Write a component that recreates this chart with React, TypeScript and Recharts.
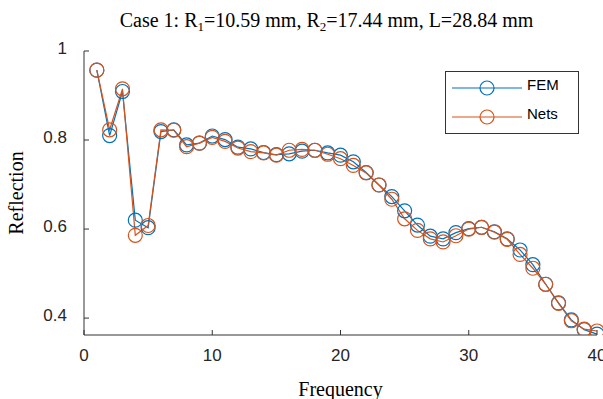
import React from 'react';
import { LineChart, Line, XAxis, YAxis, Legend, Label } from 'recharts';

const frequency = [1, 2, 3, 4, 5, 6, 7, 8, 9, 10, 11, 12, 13, 14, 15, 16, 17, 18, 19, 20, 21, 22, 23, 24, 25, 26, 27, 28, 29, 30, 31, 32, 33, 34, 35, 36, 37, 38, 39, 40];
const femValues = [0.957, 0.810, 0.909, 0.620, 0.603, 0.819, 0.823, 0.789, 0.793, 0.809, 0.801, 0.784, 0.780, 0.772, 0.767, 0.769, 0.775, 0.777, 0.771, 0.766, 0.751, 0.727, 0.699, 0.673, 0.641, 0.609, 0.584, 0.578, 0.592, 0.601, 0.604, 0.594, 0.578, 0.553, 0.520, 0.476, 0.434, 0.396, 0.374, 0.364];
const netsValues = [0.957, 0.823, 0.915, 0.586, 0.608, 0.823, 0.822, 0.785, 0.793, 0.806, 0.797, 0.782, 0.774, 0.771, 0.766, 0.777, 0.779, 0.777, 0.768, 0.758, 0.743, 0.726, 0.699, 0.667, 0.623, 0.597, 0.578, 0.571, 0.585, 0.600, 0.604, 0.593, 0.577, 0.543, 0.512, 0.476, 0.433, 0.394, 0.375, 0.371];
const xTicks = [0, 10, 20, 30, 40];
const yTicks = [0.4, 0.6, 0.8, 1];
const xDomain = [0, 40];
const yDomain = [0.362, 1];

const data = frequency.map((f, i) => ({ f, FEM: femValues[i], Nets: netsValues[i] }));

const AXIS = '#333333';
const TICK_TEXT = '#262626';
const SANS = '"Liberation Sans", Arial, Helvetica, sans-serif';
const SERIF = '"Liberation Serif", "Times New Roman", serif';
const BLUE = '#0072BD';
const ORANGE = '#D95319';

const BottomTick = (p: any) => (
  <g>
    <line x1={p.x} y1={p.y} x2={p.x} y2={p.y - 5} stroke={AXIS} strokeWidth={1} />
    <text x={p.x} y={p.y + 26} textAnchor="middle" fontFamily={SANS} fontSize={17} fill={TICK_TEXT}>
      {p.payload.value}
    </text>
  </g>
);
const TopTick = (p: any) => (
  <line x1={p.x} y1={p.y} x2={p.x} y2={p.y + 5} stroke={AXIS} strokeWidth={1} />
);
const LeftTick = (p: any) => (
  <g>
    <line x1={p.x} y1={p.y} x2={p.x + 5} y2={p.y} stroke={AXIS} strokeWidth={1} />
    <text x={p.x - 17} y={p.y + 3} textAnchor="end" fontFamily={SANS} fontSize={17} fill={TICK_TEXT}>
      {String(p.payload.value)}
    </text>
  </g>
);
const RightTick = (p: any) => (
  <line x1={p.x} y1={p.y} x2={p.x - 5} y2={p.y} stroke={AXIS} strokeWidth={1} />
);

const renderLegend = (props: any) => {
  const payload = props.payload || [];
  return (
    <svg width={135} height={64} style={{ display: 'block' }}>
      <rect x={0.5} y={0.5} width={133} height={62} fill="#ffffff" stroke={AXIS} strokeWidth={1} />
      {payload.map((e: any, i: number) => {
        const cy = 17 + i * 29;
        return (
          <g key={i}>
            <line x1={7} y1={cy} x2={77} y2={cy} stroke={e.color} strokeWidth={1.2} />
            <circle cx={42} cy={cy} r={7} fill="none" stroke={e.color} strokeWidth={1.2} />
            <text x={82} y={cy + 1.5} fontFamily={SANS} fontSize={15} fill="#000">
              {e.value}
            </text>
          </g>
        );
      })}
    </svg>
  );
};

export default function App() {
  return (
    <div style={{ position: 'absolute', left: 0, top: 0, width: 603, height: 399, background: '#ffffff' }}>
      <div
        style={{
          position: 'absolute',
          left: 0,
          top: 10,
          width: 653,
          textAlign: 'center',
          fontFamily: SERIF,
          fontSize: 20,
          lineHeight: '20px',
          color: '#000',
          whiteSpace: 'nowrap',
        }}
      >
        Case 1: R<span style={{ fontSize: 13, position: 'relative', top: 4 }}>1</span>=10.59 mm, R
        <span style={{ fontSize: 13, position: 'relative', top: 4 }}>2</span>=17.44 mm, L=28.84 mm
      </div>
      <LineChart width={603} height={399} data={data} margin={{ top: 51, right: 6, bottom: 0, left: 0 }}>
        <XAxis
          dataKey="f"
          type="number"
          domain={xDomain}
          ticks={xTicks}
          height={64}
          tickSize={0}
          tickMargin={0}
          tickLine={false}
          axisLine={{ stroke: AXIS, strokeWidth: 1 }}
          tick={(p: any) => <BottomTick {...p} />}
          interval={0}
        >
          <Label
            value="Frequency"
            position="insideBottom"
            offset={3}
            style={{ fontFamily: SERIF, fontSize: 20, fill: '#000' }}
          />
        </XAxis>
        <XAxis
          xAxisId="top"
          orientation="top"
          type="number"
          domain={xDomain}
          ticks={xTicks}
          height={0}
          tickSize={0}
          tickMargin={0}
          tickLine={false}
          axisLine={{ stroke: AXIS, strokeWidth: 1 }}
          tick={(p: any) => <TopTick {...p} />}
          interval={0}
        />
        <YAxis
          type="number"
          domain={yDomain}
          ticks={yTicks}
          width={84}
          allowDataOverflow
          tickSize={0}
          tickMargin={0}
          tickLine={false}
          axisLine={{ stroke: AXIS, strokeWidth: 1 }}
          tick={(p: any) => <LeftTick {...p} />}
          interval={0}
        >
          <Label
            content={(p: any) => {
              const vb = p.viewBox || { x: 0, y: 51, width: 84, height: 284 };
              const cx = vb.x + 23;
              const cy = vb.y + vb.height / 2;
              return (
                <text
                  x={cx}
                  y={cy}
                  transform={`rotate(-90, ${cx}, ${cy})`}
                  textAnchor="middle"
                  fontFamily={SERIF}
                  fontSize={20}
                  fill="#000"
                >
                  Reflection
                </text>
              );
            }}
          />
        </YAxis>
        <YAxis
          yAxisId="right"
          orientation="right"
          type="number"
          domain={yDomain}
          ticks={yTicks}
          width={0}
          tickSize={0}
          tickMargin={0}
          tickLine={false}
          axisLine={{ stroke: AXIS, strokeWidth: 1 }}
          tick={(p: any) => <RightTick {...p} />}
          interval={0}
        />
        <Legend
          layout="vertical"
          align="center"
          verticalAlign="middle"
          content={renderLegend}
          wrapperStyle={{ position: 'absolute', left: 445, top: 71, width: 135, height: 64 }}
        />
        <Line
          dataKey="FEM"
          name="FEM"
          type="linear"
          stroke={BLUE}
          strokeWidth={1.2}
          dot={{ r: 7, fill: 'none', stroke: BLUE, strokeWidth: 1.2 }}
          activeDot={false}
          isAnimationActive={false}
        />
        <Line
          dataKey="Nets"
          name="Nets"
          type="linear"
          stroke={ORANGE}
          strokeWidth={1.2}
          dot={{ r: 7, fill: 'none', stroke: ORANGE, strokeWidth: 1.2 }}
          activeDot={false}
          isAnimationActive={false}
        />
      </LineChart>
    </div>
  );
}
